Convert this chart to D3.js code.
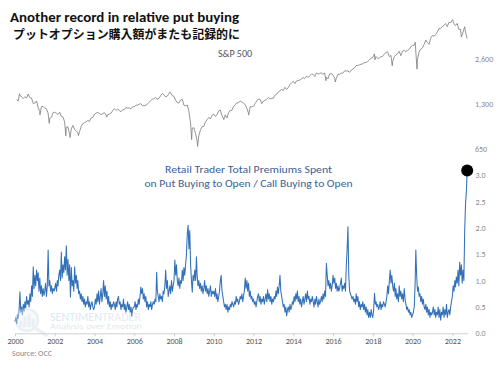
<!DOCTYPE html>
<html><head><meta charset="utf-8">
<script src="https://cdn.jsdelivr.net/npm/d3@7"></script>
<style>
html,body{margin:0;padding:0;background:#fff;}
svg{display:block;}
</style></head>
<body>
<script>
// ---------------- DATA ----------------
const titleText = "Another record in relative put buying";
const subtitleJa = "プットオプション購入額がまたも記録的に";
const spLabel = "S&P 500";
const ratioLabel1 = "Retail Trader Total Premiums Spent";
const ratioLabel2 = "on Put Buying to Open / Call Buying to Open";
const sourceText = "Source: OCC";

const spTicks = [650, 1300, 2600];
const ratioTicks = [0, 0.5, 1.0, 1.5, 2.0, 2.5, 3.0];

// S&P 500 monthly closes, one row per year (2000..2022)
const spMonthly = [
 [1394,1366,1499,1452,1421,1455,1431,1518,1437,1429,1315,1320],
 [1366,1240,1160,1249,1256,1224,1211,1134,1041,1060,1139,1148],
 [1130,1107,1147,1077,1067,990,912,916,815,886,936,880],
 [856,841,848,917,964,975,990,1008,996,1051,1058,1112],
 [1131,1145,1126,1107,1121,1141,1102,1104,1115,1130,1174,1212],
 [1181,1204,1181,1157,1192,1191,1234,1220,1229,1207,1249,1248],
 [1280,1281,1295,1311,1270,1270,1277,1304,1336,1378,1401,1418],
 [1438,1407,1421,1482,1531,1503,1455,1474,1527,1549,1481,1468],
 [1379,1331,1323,1386,1400,1280,1267,1283,1166,969,896,903],
 [826,735,798,873,919,919,987,1021,1057,1036,1096,1115],
 [1074,1104,1169,1187,1089,1031,1102,1049,1141,1183,1181,1258],
 [1286,1327,1326,1364,1345,1321,1292,1219,1131,1253,1247,1258],
 [1312,1366,1408,1398,1310,1362,1379,1407,1441,1412,1416,1426],
 [1498,1515,1569,1598,1631,1606,1686,1633,1682,1757,1806,1848],
 [1783,1859,1872,1884,1924,1960,1931,2003,1972,2018,2068,2059],
 [1995,2105,2068,2086,2107,2063,2104,1972,1920,2079,2080,2044],
 [1940,1932,2060,2065,2097,2099,2174,2171,2168,2126,2199,2239],
 [2279,2364,2363,2384,2412,2423,2470,2472,2519,2575,2648,2674],
 [2824,2714,2641,2648,2705,2718,2816,2902,2914,2712,2760,2507],
 [2704,2784,2834,2946,2752,2942,2980,2926,2977,3038,3141,3231],
 [3226,2954,2585,2912,3044,3100,3271,3500,3363,3270,3622,3756],
 [3714,3811,3973,4181,4204,4298,4395,4523,4308,4605,4567,4766],
 [4516,4374,4530,4132,4132,3785,4130,3955,3586]
];
// intra-month extremes of the S&P 500 (date, level)
const spExtremeDates = ["2000-03-24","2000-09-01","2001-04-04","2001-09-21","2002-07-23","2002-10-09","2003-03-11","2004-08-12","2007-02-27","2007-10-09","2008-11-20","2009-03-09","2010-07-02","2011-10-03","2015-08-24","2016-02-11","2018-02-08","2018-12-24","2020-02-19","2020-03-23","2022-01-03","2022-06-16","2022-08-16"];
const spExtremeValues = [1527,1520,1103,966,797,777,800,1064,1400,1565,752,677,1022,1099,1868,1829,2581,2351,3386,2237,4796,3667,4305];

// Put/Call premium ratio, two readings per month, one row per year (2000..2022)
const ratioSemiMonthly = [
 [0.22,0.3,0.18,0.35,0.28,0.45,0.79,0.4,0.5,0.35,0.55,0.42,0.6,0.48,0.7,0.55,0.62,0.5,0.75,0.6,0.9,0.7,1.26,0.85],
 [1.1,0.9,1.2,1.0,1.15,0.8,1.05,0.75,0.9,0.7,0.85,0.72,0.8,0.95,0.7,0.9,1.58,0.9,1.0,0.8,0.9,0.75,0.85,0.8],
 [0.85,0.95,0.8,1.0,0.9,1.1,1.2,1.0,1.54,1.05,1.3,1.15,1.45,1.2,1.66,1.1,1.4,1.0,1.3,0.69,1.25,0.9,1.0,0.8],
 [1.26,0.95,1.1,0.85,1.0,0.75,0.8,0.65,0.75,0.6,0.7,0.55,0.65,0.5,0.6,0.55,0.7,0.5,0.6,0.45,0.55,0.6,0.5,0.45],
 [0.5,0.65,0.55,0.75,0.6,0.8,0.55,0.7,0.85,0.6,0.75,1.0,0.7,0.9,0.65,0.8,0.55,0.7,0.5,0.6,0.45,0.55,0.5,0.6],
 [0.55,0.45,0.6,0.5,0.65,0.7,0.55,0.6,0.45,0.55,0.5,0.65,0.45,0.55,0.4,0.5,0.6,0.45,0.55,0.4,0.5,0.33,0.45,0.5],
 [0.5,0.6,0.45,0.55,0.5,0.65,0.55,0.7,0.88,0.75,0.85,0.65,0.75,0.6,0.7,0.5,0.6,0.45,0.55,0.5,0.6,0.45,0.55,0.6],
 [0.55,0.65,0.6,1.16,0.8,0.7,0.6,0.75,0.65,0.7,0.6,0.8,0.75,0.9,1.2,0.85,1.0,0.7,0.8,0.9,0.75,1.0,0.8,0.9],
 [1.0,1.39,1.1,1.3,1.0,0.9,1.05,0.85,1.0,0.95,1.2,1.0,1.25,1.1,1.3,1.5,1.9,2.05,1.6,1.95,1.3,1.0,0.78,1.1],
 [1.0,1.2,1.0,1.45,1.1,0.9,1.0,0.85,0.95,0.8,0.9,0.75,0.85,1.0,0.8,0.9,0.75,0.85,0.7,0.8,0.9,0.7,0.8,0.75],
 [0.8,0.7,0.85,0.65,0.75,0.6,0.7,0.8,1.0,1.1,0.8,0.7,0.6,0.5,0.55,0.45,0.55,0.4,0.5,0.45,0.55,0.5,0.6,0.55],
 [0.5,0.6,0.55,0.7,0.6,0.65,0.55,0.6,0.7,0.65,0.75,0.6,0.7,0.8,1.05,0.85,1.0,0.8,0.95,0.7,0.8,0.65,0.7,0.6],
 [0.65,0.55,0.6,0.5,0.6,0.7,0.75,0.6,0.7,0.55,0.65,0.6,0.7,0.55,0.65,0.75,0.6,0.83,0.65,0.75,0.6,0.7,0.55,0.65],
 [0.6,0.7,0.65,0.8,0.7,0.88,0.75,0.9,1.1,0.8,0.7,0.6,0.5,0.55,0.4,0.5,0.33,0.45,0.5,0.4,0.55,0.45,0.5,0.6],
 [0.55,0.7,0.6,0.75,0.65,0.8,0.6,0.7,0.55,0.65,0.5,0.6,0.7,0.55,0.65,0.75,0.6,0.8,0.65,0.7,0.55,0.65,0.6,0.7],
 [0.6,0.5,0.65,0.55,0.7,0.6,0.5,0.65,0.55,0.6,0.7,0.6,0.75,0.65,0.8,0.7,1.33,1.1,0.9,1.0,0.85,0.95,0.8,0.9],
 [1.1,0.95,1.05,0.85,0.95,0.8,0.9,0.8,0.85,0.95,1.05,0.8,0.9,0.85,0.95,0.8,1.3,1.6,2.02,1.1,0.8,0.75,0.7,0.65],
 [0.7,0.6,0.65,0.55,0.75,0.6,0.7,0.5,0.6,0.45,0.55,0.5,0.6,0.45,0.55,0.4,0.5,0.35,0.45,0.3,0.4,0.3,0.45,0.35],
 [0.3,0.45,0.76,0.55,0.6,0.5,0.55,0.45,0.5,0.6,0.45,0.55,0.5,0.6,0.55,0.5,0.6,0.7,0.9,0.75,1.0,1.2,0.95,1.1],
 [0.9,0.8,0.95,0.7,0.85,0.65,0.75,0.6,0.9,0.7,0.8,0.65,0.75,0.6,0.85,0.65,0.55,0.45,0.5,0.4,0.45,0.35,0.4,0.3],
 [0.35,0.4,0.5,0.9,1.58,1.1,0.8,0.88,0.7,0.75,0.6,0.7,0.55,0.65,0.5,0.45,0.55,0.4,0.5,0.35,0.45,0.3,0.4,0.35],
 [0.4,0.5,0.35,0.45,0.3,0.4,0.35,0.5,0.3,0.45,0.25,0.4,0.35,0.5,0.3,0.45,0.35,0.55,0.3,0.4,0.45,0.35,0.5,0.6],
 [0.7,0.9,0.8,1.0,0.88,1.07,0.95,1.2,0.9,1.35,1.1,1.3,0.95,1.2,1.0,1.96,2.47,2.7,3.09]
];
const startYear = 2000;

// ---------------- BUILD SERIES ----------------
const spSeries = [];
spMonthly.forEach((row, yi) => row.forEach((v, m) => {
  spSeries.push({date: new Date(startYear + yi, m + 1, 0), value: v});
}));
spExtremeDates.forEach((d, i) => {
  const p = d.split("-").map(Number);
  spSeries.push({date: new Date(p[0], p[1] - 1, p[2]), value: spExtremeValues[i]});
});
spSeries.sort((a, b) => a.date - b.date);

const ratioSeries = [];
ratioSemiMonthly.forEach((row, yi) => row.forEach((v, i) => {
  ratioSeries.push({date: new Date(startYear + yi, Math.floor(i / 2), i % 2 ? 16 : 1), value: v});
}));

// ---------------- CHART ----------------
const W = 500, H = 366;
const svg = d3.select("body").append("svg").attr("width", W).attr("height", H)
  .style("font-family", "Carlito, Lato, 'Open Sans', sans-serif");

const x = d3.scaleTime()
  .domain([new Date(2000, 0, 1), new Date(2022, 9, 12)])
  .range([15, 467.8]);
const ySp = d3.scaleLog().domain([650, 2600]).range([149, 59.3]);
const yR = d3.scaleLinear().domain([0, 3]).range([333.3, 175.2]);

// Title
svg.append("text").attr("x", 10).attr("y", 21.5)
  .attr("font-size", 13).attr("font-weight", "bold").attr("fill", "#111")
  .attr("textLength", 229).attr("lengthAdjust", "spacingAndGlyphs")
  .text(titleText);
svg.append("text").attr("x", 13).attr("y", 38.5)
  .attr("font-size", 12).attr("font-weight", "bold").attr("fill", "#111")
  .style("font-family", "'Noto Sans CJK JP', sans-serif")
  .attr("textLength", 227).attr("lengthAdjust", "spacingAndGlyphs")
  .text(subtitleJa);

// S&P panel
svg.append("text").attr("x", 235).attr("y", 56.5).attr("text-anchor", "middle")
  .attr("font-size", 10).attr("fill", "#555").text(spLabel);

svg.append("g").selectAll("text").data(spTicks).join("text")
  .attr("x", 475).attr("y", d => ySp(d) + 3)
  .attr("font-size", 8).attr("fill", "#8a8a8a")
  .text(d3.format(","));

svg.append("path").datum(spSeries)
  .attr("fill", "none").attr("stroke", "#7a7a7a").attr("stroke-width", 0.8)
  .attr("stroke-linejoin", "round")
  .attr("d", d3.line().x(d => x(d.date)).y(d => ySp(d.value)));

// Ratio panel labels
svg.append("text").attr("x", 248.5).attr("y", 173)
  .attr("text-anchor", "middle").attr("font-size", 11).attr("fill", "#3b5f98")
  .attr("textLength", 167).attr("lengthAdjust", "spacingAndGlyphs")
  .text(ratioLabel1);
svg.append("text").attr("x", 248.5).attr("y", 187)
  .attr("text-anchor", "middle").attr("font-size", 11).attr("fill", "#3b5f98")
  .attr("textLength", 208).attr("lengthAdjust", "spacingAndGlyphs")
  .text(ratioLabel2);

svg.append("g").selectAll("text").data(ratioTicks).join("text")
  .attr("x", 475.5).attr("y", d => yR(d) + 3)
  .attr("font-size", 8).attr("fill", "#8a8a8a")
  .text(d3.format(".1f"));

// X axis
const xAxis = d3.axisBottom(x)
  .ticks(d3.timeYear.every(2))
  .tickFormat(d3.timeFormat("%Y"))
  .tickSize(3).tickSizeOuter(0);
const gx = svg.append("g").attr("transform", `translate(0,${yR(0)})`).call(xAxis);
gx.select(".domain").attr("stroke", "#cfcfcf");
gx.selectAll(".tick line").attr("stroke", "#cfcfcf");
gx.selectAll(".tick text").attr("font-size", 8).attr("fill", "#555")
  .attr("dy", "0.55em").style("font-family", "Carlito, Lato, 'Open Sans', sans-serif");

// Ratio line
svg.append("path").datum(ratioSeries)
  .attr("fill", "none").attr("stroke", "#3270b8").attr("stroke-width", 1.05)
  .attr("stroke-linejoin", "round")
  .attr("d", d3.line().x(d => x(d.date)).y(d => yR(d.value)));

// Last point marker
const last = ratioSeries[ratioSeries.length - 1];
svg.append("circle").attr("cx", x(last.date)).attr("cy", yR(last.value))
  .attr("r", 6).attr("fill", "#000");

// Watermark
const wm = svg.append("g").attr("opacity", 0.45);
wm.append("circle").attr("cx", 27).attr("cy", 320).attr("r", 11)
  .attr("fill", "#eef3f8").attr("stroke", "#d3dfec").attr("stroke-width", 2.5);
[[21,6],[25,10],[29,13],[33,8]].forEach(([bx, bh]) => {
  wm.append("rect").attr("x", bx - 1.5).attr("y", 327 - bh).attr("width", 3).attr("height", bh)
    .attr("fill", "#d3dbe4");
});
wm.append("line").attr("x1", 35).attr("y1", 328).attr("x2", 46).attr("y2", 335)
  .attr("stroke", "#d3dfec").attr("stroke-width", 3.5).attr("stroke-linecap", "round");
const wt = wm.append("text").attr("x", 50).attr("y", 320.5).attr("font-size", 11.5)
  .attr("textLength", 91).attr("lengthAdjust", "spacingAndGlyphs");
wt.append("tspan").attr("fill", "#b3cde8").text("SENTIMEN");
wt.append("tspan").attr("fill", "#cdd5de").text("TRADER");
wm.append("text").attr("x", 50).attr("y", 329).attr("font-size", 7.5).attr("fill", "#c3c9cf")
  .attr("textLength", 92).attr("lengthAdjust", "spacingAndGlyphs")
  .text("Analysis over Emotion");

// Source
svg.append("text").attr("x", 12).attr("y", 355.5).attr("font-size", 8).attr("fill", "#888")
  .text(sourceText);
</script>
</body></html>
